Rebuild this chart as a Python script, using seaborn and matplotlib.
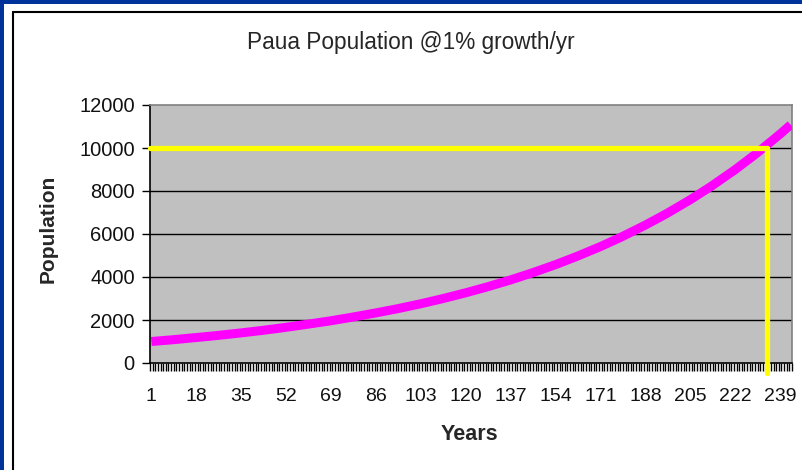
import matplotlib
matplotlib.use("Agg")
from matplotlib import pyplot as plt
from matplotlib.patches import Rectangle
import pandas as pd
import seaborn as sns
import numpy as np

# years read off the chart and population estimated at each
years = [1, 9, 18, 26, 35, 43, 52, 60, 69, 77, 86, 94, 103, 111, 120,
         128, 137, 145, 154, 162, 171, 179, 188, 196, 205, 213, 222, 230, 239, 243]
population = [1000, 1080, 1185, 1280, 1400, 1515, 1660, 1800, 1965, 2130, 2330, 2520, 2755, 2985, 3265,
              3535, 3865, 4185, 4575, 4955, 5415, 5865, 6415, 6945, 7595, 8225, 8995, 9740, 10650, 11080]

x_ticks = [1, 18, 35, 52, 69, 86, 103, 120, 137, 154, 171, 188, 205, 222, 239]
y_ticks = [0, 2000, 4000, 6000, 8000, 10000, 12000]
target = 10000       # yellow guide level
target_year = 234    # where the curve crosses the target
n_years = 243

df = pd.DataFrame({'year': years, 'population': population})

sns.set_style("white")
plt.rcParams['font.family'] = ['Liberation Sans', 'DejaVu Sans']

fig = plt.figure(figsize=(8.02, 4.70), dpi=100)
fig.patch.set_facecolor('white')

# blue window frame (top and left) and the black chart border
fig.patches.append(Rectangle((0, 1 - 4 / 470), 1, 4 / 470, transform=fig.transFigure,
                             facecolor='#003399', edgecolor='none', zorder=0))
fig.patches.append(Rectangle((0, 0), 4 / 802, 1, transform=fig.transFigure,
                             facecolor='#003399', edgecolor='none', zorder=0))
fig.add_artist(plt.Line2D([13 / 802, 13 / 802], [0, 1 - 12 / 470], transform=fig.transFigure,
                          color='black', lw=1.5))
fig.add_artist(plt.Line2D([13 / 802, 1], [1 - 12 / 470, 1 - 12 / 470], transform=fig.transFigure,
                          color='black', lw=1.5))

ax = fig.add_axes([150 / 802, 1 - 363 / 470, 642 / 802, 258 / 470])
ax.set_facecolor('#c0c0c0')

# gridlines
for yv in y_ticks[1:-1]:
    ax.axhline(yv, color='black', lw=1, zorder=1)

sns.lineplot(ax=ax, data=df, x='year', y='population', color='#ff00ff', lw=6.5,
             solid_capstyle='butt', zorder=3)

# yellow guide lines
ax.plot([0.5, target_year], [target, target], color='#ffff00', lw=3.8, zorder=4,
        solid_capstyle='round', clip_on=False)
ax.plot([target_year, target_year], [target, -450], color='#ffff00', lw=3.8, zorder=4,
        solid_capstyle='round', clip_on=False)

ax.set_xlim(0.5, n_years + 0.5)
ax.set_ylim(0, 12000)
ax.set_xticks(x_ticks)
ax.set_xticks(np.arange(0.5, n_years + 1, 1), minor=True)
ax.set_yticks(y_ticks)
ax.tick_params(axis='x', which='both', bottom=True)
ax.tick_params(axis='y', which='both', left=True)
ax.tick_params(axis='x', which='major', length=0, pad=18, labelsize=14, labelcolor='#111111')
ax.tick_params(axis='x', which='minor', length=6, width=1, color='black', direction='out')
ax.tick_params(axis='y', length=6, width=1, color='black', direction='out', pad=5,
               labelsize=14.5, labelcolor='#111111')

ax.spines['left'].set_color('black')
ax.spines['bottom'].set_color('black')
ax.spines['top'].set_color('#808080')
ax.spines['right'].set_color('#808080')
for s in ax.spines.values():
    s.set_linewidth(1.2)

ax.set_xlabel('Years', fontsize=15.5, fontweight='bold')
ax.set_ylabel('Population', fontsize=15, fontweight='bold')
ax.xaxis.set_label_coords(0.498, -0.236)
ax.yaxis.set_label_coords(-0.144, 0.519)

fig.text(411 / 802, 1 - 42 / 470, 'Paua Population @1% growth/yr', ha='center', va='center', fontsize=16.3)

fig.savefig('out.png', dpi=100)
